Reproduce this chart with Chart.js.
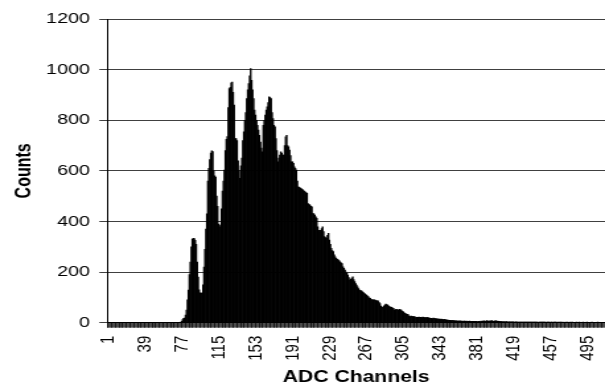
<!DOCTYPE html>
<html>
<head>
<meta charset="utf-8">
<script src="https://cdn.jsdelivr.net/npm/chart.js@4.4.0/dist/chart.umd.min.js"></script>
<style>
  html, body { margin: 0; padding: 0; background: #fff; overflow: hidden; }
  /* the original picture is stretched sideways, so the chart is drawn narrow and widened */
  #wrap { position: absolute; left: 0; top: 0; width: 458px; height: 387px;
          transform: scaleX(1.321); transform-origin: 0 0; }
</style>
</head>
<body>
<div id="wrap"><canvas id="adcChart"></canvas></div>
<script>
const channels = Array.from({ length: 512 }, (_, i) => i + 1);

const tickLabels = [1, 39, 77, 115, 153, 191, 229, 267, 305, 343, 381, 419, 457, 495];

const counts = [
  0,0,0,0,0,0,0,0,0,0, 0,0,0,0,0,0,0,0,0,0, 0,0,0,0,0,0,0,0,0,0,
  0,0,0,0,0,0,0,0,0,0, 0,0,0,0,0,0,0,0,0,0, 0,0,0,0,0,0,0,0,0,0,
  0,0,0,0,0,0,0,0,0,0, 0,0,0,0,0,0,
  5,12,17,18,
  30,50,90,129,190,240,300,330,333,332,
  325,310,240,180,130,118,116,118,150,220,
  290,370,430,560,610,645,670,679,676,600,
  580,575,500,460,390,379,386,450,520,560,
  603,680,725,735,850,925,930,948,951,910,
  860,728,728,720,640,600,570,620,650,720,
  754,800,830,886,920,945,975,1004,958,920,
  886,840,820,800,780,761,740,714,690,675,
  780,800,820,840,853,870,892,890,886,830,
  807,780,774,728,680,636,650,662,675,670,
  662,662,700,734,740,700,695,682,660,636,
  636,630,616,610,603,560,537,535,532,530,
  527,524,520,517,514,511,471,468,465,460,
  458,432,430,425,418,412,379,365,359,365,
  372,379,360,340,336,333,345,353,326,310,
  294,285,281,268,260,254,250,248,245,241,
  237,234,221,215,208,200,195,188,178,168,
  171,176,181,170,162,155,149,142,135,129,
  127,126,122,119,116,112,109,106,103,98,
  96,92,90,90,90,89,87,86,86,80,
  76,66,62,61,66,70,74,72,70,66,
  63,62,61,58,57,50,52,53,51,50,
  53,51,50,45,43,39,37,34,33,32,
  26,24,26,25,24,24,23,20,21,21,
  22,21,21,20,22,21,20,19,21,20,
  19,18,17,17,16,18,17,16,15,15,
  14,14,13,14,13,12,13,12,11,10,
  10,9,9,8,9,8,8,7,7,7,
  6,6,7,6,6,5,6,6,5,6,
  5,5,6,5,5,5,5,4,5,5,
  4,4,5,4,6,5,6,7,5,6,
  8,6,5,7,6,8,6,5,6,8,
  5,6,5,4,5,4,3,4,3,3,
  4,3,2,3,3,2,3,3,2,2,
  3,2,2,2,2,1,2,2,1,2,
  1,1,2,1,1,2,1,1,1,2,
  1,1,1,0,1,1,2,1,1,1,
  1,0,1,1,1,0,1,1,0,1,
  1,1,0,1,0,1,1,0,1,0,
  0,1,0,1,0,0,1,0,1,0,
  0,0,1,0,0,1,0,0,0,1,
  0,0,0,1,0,0,0,0,1,0,
  0,0,0,0,1,0,0,0,0,0,0,0
];

const fontFamily = '"Liberation Sans", Arial, sans-serif';

const ctx = document.getElementById('adcChart').getContext('2d');
const adcChart = new Chart(ctx, {
  type: 'bar',
  data: {
    labels: channels,
    datasets: [{
      label: 'Counts',
      data: counts,
      backgroundColor: '#000000',
      borderWidth: 0,
      barPercentage: 1,
      categoryPercentage: 1
    }]
  },
  options: {
    responsive: true,
    maintainAspectRatio: false,
    animation: false,
    layout: { padding: { top: 19, right: 0, bottom: 0, left: 0 } },
    plugins: {
      legend: { display: false },
      tooltip: { enabled: false }
    },
    scales: {
      x: {
        grid: { drawOnChartArea: false, tickLength: 5, color: 'rgba(0,0,0,0.7)' },
        border: { color: '#000000' },
        ticks: {
          autoSkip: false,
          minRotation: 90,
          maxRotation: 90,
          padding: 8,
          color: '#000000',
          font: { family: fontFamily, size: 15 },
          callback: function (value) {
            const ch = Number(this.getLabelForValue(value));
            return tickLabels.includes(ch) ? String(ch) : '';
          }
        },
        title: {
          display: true,
          text: 'ADC Channels',
          color: '#000000',
          font: { family: fontFamily, size: 16, weight: 'bold' },
          padding: { top: 0, bottom: 0 }
        },
        afterFit: scale => {
          scale.height = 64.3;
          // let the bars run right up to the edge, as in the original
          scale.paddingLeft = 0;
          scale.paddingRight = 0;
        }
      },
      y: {
        min: 0,
        max: 1200,
        ticks: {
          stepSize: 200,
          padding: 7,
          color: '#000000',
          font: { family: fontFamily, size: 15 },
          callback: v => String(v)
        },
        grid: { color: '#404040', tickLength: 6 },
        border: { color: '#000000' },
        title: {
          display: true,
          text: 'Counts',
          color: '#000000',
          font: { family: fontFamily, size: 16, weight: 'bold' },
          padding: { top: 8.6, bottom: 0 }
        },
        afterFit: scale => { scale.width = 81.2; }
      }
    }
  }
});
</script>
</body>
</html>
